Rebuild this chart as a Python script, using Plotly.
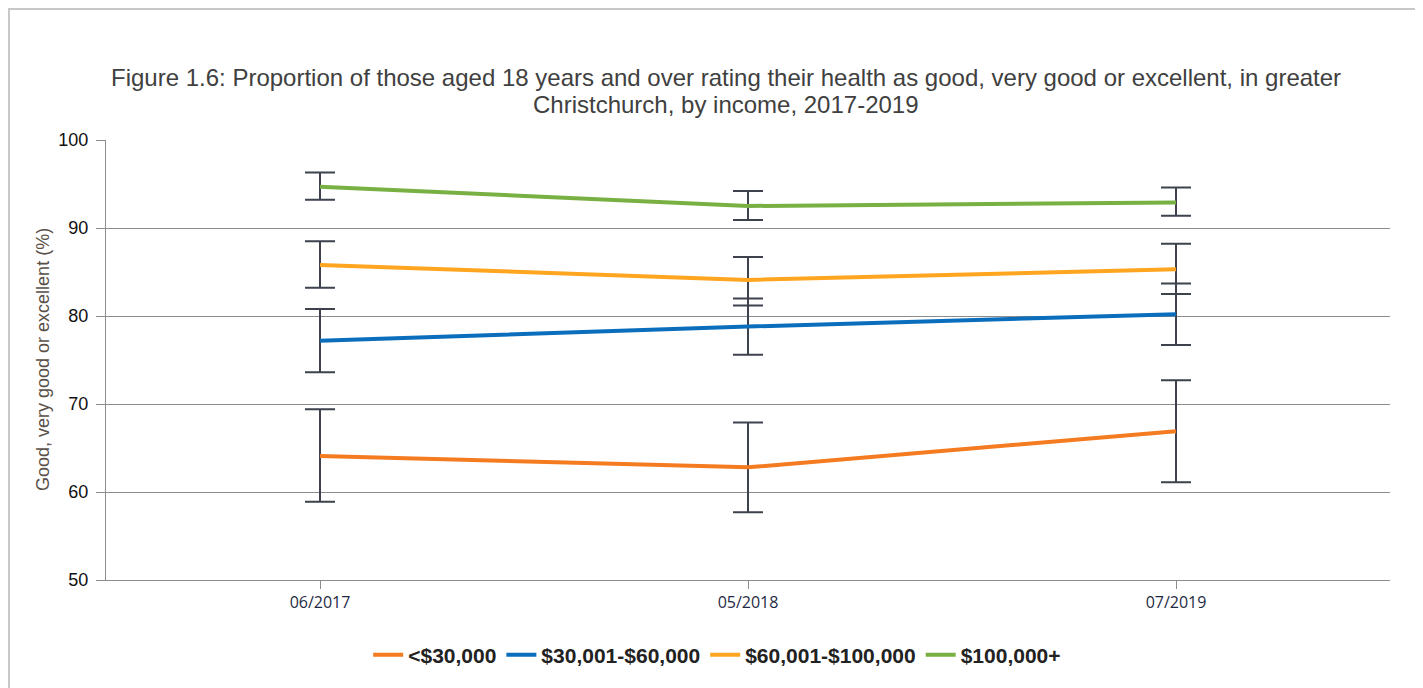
import plotly.graph_objects as go

periods = ["06/2017", "05/2018", "07/2019"]
series_names = ["<$30,000", "$30,001-$60,000", "$60,001-$100,000", "$100,000+"]
colors = ["#F47B20", "#0A6EBD", "#FFA51F", "#78B043"]

values = [
    [64.1, 62.8, 66.9],
    [77.2, 78.8, 80.2],
    [85.8, 84.1, 85.3],
    [94.7, 92.5, 92.9],
]
upper_ci = [
    [69.4, 67.9, 72.7],
    [80.8, 82.0, 83.7],
    [88.5, 86.7, 88.2],
    [96.3, 94.2, 94.6],
]
lower_ci = [
    [58.9, 57.7, 61.1],
    [73.6, 75.6, 76.7],
    [83.2, 81.2, 82.5],
    [93.2, 90.9, 91.4],
]
y_ticks = [50, 60, 70, 80, 90, 100]
title_lines = [
    "Figure 1.6: Proportion of those aged 18 years and over rating their health as good, very good or excellent, in greater",
    "Christchurch, by income, 2017-2019",
]
y_title = "Good, very good or excellent (%)"

fig = go.Figure()
for name, col, v, up, lo in zip(series_names, colors, values, upper_ci, lower_ci):
    fig.add_trace(go.Scatter(
        x=periods, y=v, name=name, mode="lines",
        line=dict(color=col, width=4),
        error_y=dict(
            type="data", symmetric=False,
            array=[u - a for u, a in zip(up, v)],
            arrayminus=[a - l for a, l in zip(v, lo)],
            color="#3d424d", thickness=2, width=15,
        ),
    ))

# plot area in screen px: x 106..1390, y 140..580 (page has an 8px body margin)
PX0, PX1, PY0, PY1 = 106, 1390, 140, 580
def px(x):
    return (x - PX0) / (PX1 - PX0)
def py(y):
    return (PY1 - y) / (PY1 - PY0)

fig.update_layout(
    width=1415, height=680,
    margin=dict(l=98, r=33, t=132, b=108),
    paper_bgcolor="white", plot_bgcolor="white",
    font=dict(family="Liberation Sans, Arial, sans-serif", color="#222"),
    xaxis=dict(
        type="category", range=[-0.5, 2.5],
        showgrid=False, showline=True, linecolor="#8c8c8c", linewidth=1,
        ticks="outside", ticklen=8, tickcolor="#8c8c8c",
        tickfont=dict(family="Open Sans, sans-serif", size=16, color="#1f2a44"),
    ),
    yaxis=dict(
        range=[50, 100], tickvals=y_ticks,
        showgrid=True, gridcolor="#8c8c8c", gridwidth=1,
        showline=True, linecolor="#8c8c8c", linewidth=1,
        zeroline=False,
        ticks="outside", ticklen=9, tickcolor="#8c8c8c",
        ticklabelstandoff=4,
        tickfont=dict(size=18, color="#111"),
    ),
    legend=dict(
        orientation="h", x=0.476, xanchor="center", y=py(655), yanchor="middle",
        font=dict(size=21, color="#222", weight="bold"),
    ),
    showlegend=True,
)

for line, yy in zip(title_lines, [77, 104]):
    fig.add_annotation(text=line, xref="paper", yref="paper", x=px(726), y=py(yy),
                       xanchor="center", yanchor="middle", showarrow=False,
                       font=dict(size=24, color="#404040"))

fig.add_annotation(text=y_title, xref="paper", yref="paper", x=px(43), y=0.5,
                   xanchor="center", yanchor="middle", textangle=-90, showarrow=False,
                   font=dict(size=18, color="#5a5048"))

fig.add_shape(type="rect", xref="paper", yref="paper",
              x0=px(9), x1=1.06, y0=-0.4, y1=py(9),
              line=dict(color="#c8c8c8", width=2), layer="below")

fig.write_html("out.html")
